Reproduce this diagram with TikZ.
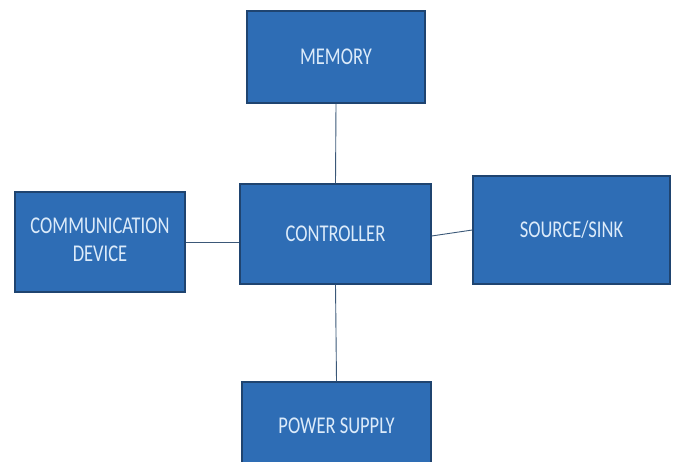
\documentclass[tikz,border=0pt]{standalone}
\usepackage{fontspec}
\setmainfont{Carlito}
\usepackage{graphicx}
\definecolor{boxfill}{HTML}{2E6DB5}
\definecolor{boxline}{HTML}{1F4470}
\definecolor{txtcol}{HTML}{DCEBFA}
\definecolor{wirecol}{HTML}{3B5878}
\newcommand{\stxt}[1]{\scalebox{1}[1.3]{#1}}
\begin{document}
\begin{tikzpicture}[x=1pt,y=1pt,
  blk/.style={draw=boxline, line width=1.3pt, fill=boxfill, text=txtcol,
    font=\fontsize{18.5}{21.5}\selectfont, align=center, inner sep=0pt},
  wire/.style={draw=wirecol, line width=0.9pt}]
\useasboundingbox (0,0) rectangle (674,462);
\clip (0,0) rectangle (674,462);
\fill[white] (0,0) rectangle (674,462);
\node[blk, minimum width=178pt, minimum height=92pt] (mem) at (336,405) {\stxt{MEMORY}};
\node[blk, minimum width=191pt, minimum height=100pt] (ctrl) at (335.5,228) {\raisebox{-2pt}{\stxt{CONTROLLER}}};
\node[blk, minimum width=170pt, minimum height=100pt] (comm) at (100,220) {\raisebox{-4pt}{\stxt{\begin{tabular}{c}COMMUNICATION\\DEVICE\end{tabular}}}};
\node[blk, minimum width=197pt, minimum height=108pt] (src) at (571.5,232) {\stxt{SOURCE/SINK}};
\node[blk, minimum width=189pt, minimum height=88pt] (pow) at (336.5,36) {\stxt{POWER SUPPLY}};
\draw[wire] (mem.south) -- (ctrl.north);
\draw[wire] (ctrl.south) -- (pow.north);
\draw[wire] (comm.east) -- (comm.east -| ctrl.west);
\draw[wire] ([yshift=-2pt]ctrl.east) -- (src.west);
\end{tikzpicture}
\end{document}
